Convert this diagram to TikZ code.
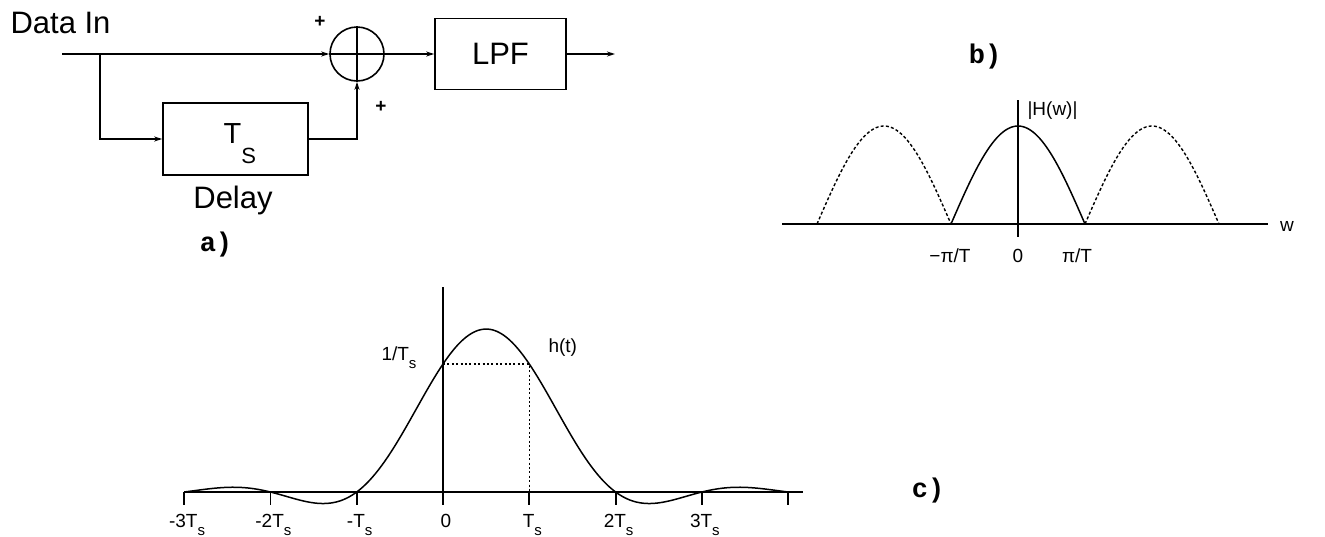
\documentclass[tikz,border=0pt]{standalone}
\usepackage{fontspec}
\setmainfont{Liberation Sans}
\newfontfamily\partfont{Liberation Mono}
\usetikzlibrary{arrows.meta}
\newcommand{\Ts}{T\raisebox{-8pt}{\fontsize{15}{15}\selectfont s}}

\begin{document}
\begin{tikzpicture}[x=1pt, y=-1pt,
  box/.style={draw, line width=1.6pt, inner sep=0pt},
  sumnode/.style={draw, circle, line width=1.6pt, minimum size=54pt, inner sep=0pt},
  wire/.style={line width=1.8pt, -{Stealth[length=8pt, width=5pt]}},
  axis/.style={line width=1.8pt},
  curve/.style={line width=1.5pt},
  image/.style={line width=1.4pt, dash pattern=on 3pt off 2.2pt},
  guide/.style={line width=1.6pt, dash pattern=on 2pt off 2.4pt},
  bigtext/.style={font=\fontsize{31}{31}\selectfont},
  small/.style={font=\fontsize{19}{19}\selectfont},
  part/.style={font=\fontsize{27}{27}\selectfont\partfont\bfseries}]
  \useasboundingbox (0,0) rectangle (1325,536);

  \node[bigtext, anchor=base west] (datain) at (7,33) {Data In};
  \node[sumnode] (sum) at (357,54) {};
  \draw[line width=1.4pt] (sum.north) -- (sum.south) (sum.west) -- (sum.east);
  \node[box, minimum width=131pt, minimum height=71pt, bigtext] (lpf) at (500.5,54) {LPF};
  \node[box, minimum width=145pt, minimum height=72pt] (delay) at (235.5,139) {};
  \node[anchor=base west, font=\fontsize{29}{29}\selectfont] (ts) at (220,143)
    {T\raisebox{-20pt}{\fontsize{22}{22}\selectfont S}};
  \node[bigtext, anchor=base] (delaylab) at (233,208) {Delay};
  \node[font=\fontsize{19}{19}\selectfont\bfseries] (plusa) at (320,22) {+};
  \node[font=\fontsize{19}{19}\selectfont\bfseries] (plusb) at (381,107) {+};
  \node[part, anchor=base] (parta) at (216,251) {a)};
  \coordinate (in) at (62,54);
  \coordinate (split) at (100,54);
  \coordinate (out) at (615,54);
  \draw[wire] (in) -- (sum);
  \draw[wire] (split) |- (delay);
  \draw[wire] (delay) -| (sum);
  \draw[wire] (sum) -- (lpf);
  \draw[wire] (lpf) -- (out);

  \node[part, anchor=base] (partb) at (985,63) {b)};
  \draw[axis] (782,224) -- (1268,224);
  \draw[axis] (1018,100) -- (1018,237);
  \draw[curve] plot[domain=-90:90, samples=60, smooth] ({1018+67*\x/90}, {224-98*cos(\x)});
  \foreach \c/\nm in {884/left, 1152/right}
    \draw[image] plot[domain=-90:90, samples=60, smooth] ({\c+67*\x/90}, {224-98*cos(\x)});
  \node[small, anchor=base west] (hw) at (1024,115) {|H(w)|};
  \node[small, anchor=base] (wlab) at (1287,231) {w};
  \node[small, anchor=base] (mpi) at (950,262) {−π/T};
  \node[small, anchor=base] (zerob) at (1018,262) {0};
  \node[small, anchor=base] (ppi) at (1077,262) {π/T};

  \node[part, anchor=base] (partc) at (928,497) {c)};
  \draw[axis] (185,492) -- (803,492);
  \draw[axis] (443,287) -- (443,505);
  \foreach \t in {-3,...,4}
    \draw[axis] ({443+86.3*\t},492) -- ++(0,13);
  \draw[guide] (443,364) -- (529.3,364) -- (529.3,492);
  \draw[curve] plot[domain=-3:4, samples=140, smooth]
    ({443+86.3*\x}, {492-128*(sin(180*\x)/(pi*\x)+sin(180*(\x-1))/(pi*(\x-1)))});
  \foreach \t/\lab/\nm in {-3/{-3\Ts}/m3, -2/{-2\Ts}/m2, -1/{-\Ts}/m1, 0/0/z,
                           1/\Ts/p1, 2/{2\Ts}/p2, 3/{3\Ts}/p3}
    \node[small, anchor=base] (tick\nm) at ({446+86.3*\t},527) {\lab};
  \node[small, anchor=base west] (onets) at (378,360) {1/\Ts};
  \node[small, anchor=base west] (hlab) at (545,352) {h(t)};
\end{tikzpicture}
\end{document}
